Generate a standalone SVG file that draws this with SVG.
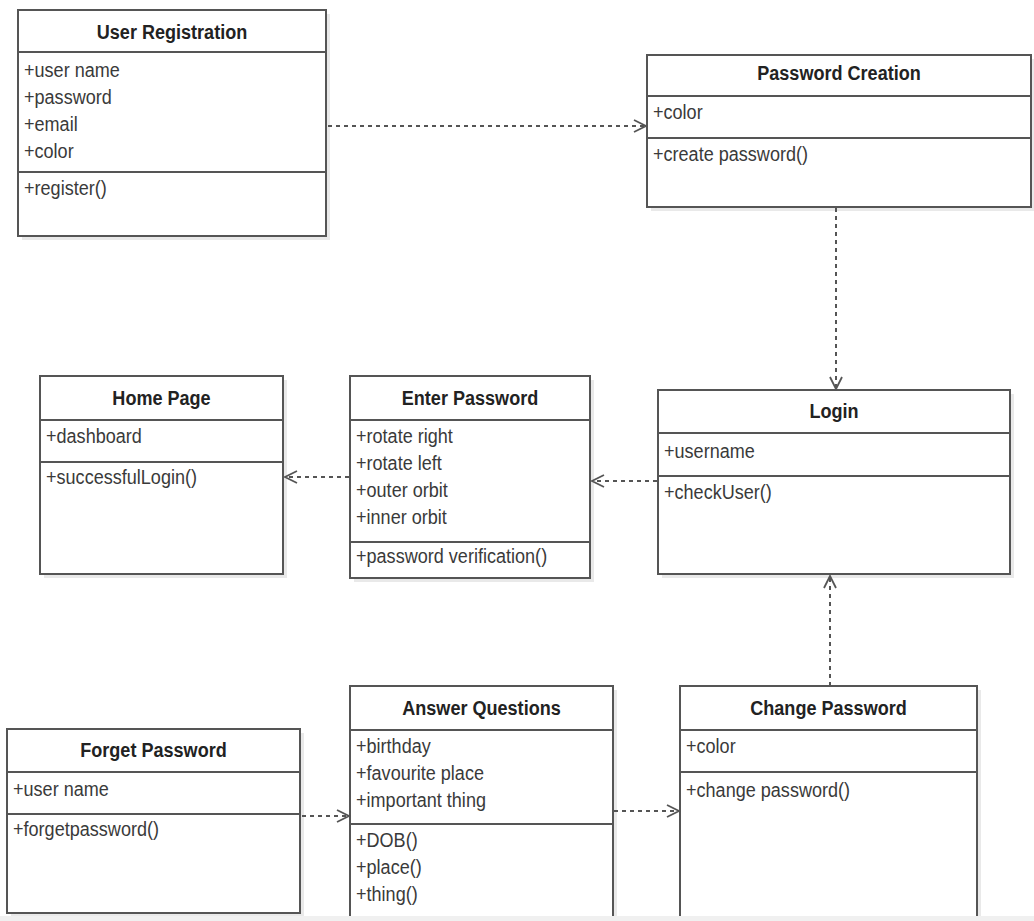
<svg xmlns="http://www.w3.org/2000/svg" width="1034" height="921" viewBox="0 0 1034 921">
<defs>
<style>
.box{fill:#fff;stroke:#555;stroke-width:2}
.sh{fill:#e9e9e9}
.ln{stroke:#555;stroke-width:2}
.t{font-family:"Liberation Sans",Arial,sans-serif;font-weight:bold;font-size:21px;fill:#222;text-anchor:middle}
.a{font-family:"Liberation Sans",Arial,sans-serif;font-size:21px;fill:#3a3a3a}
.c{stroke:#555;stroke-width:2;stroke-dasharray:4 4;fill:none;marker-end:url(#arr)}
</style>
<marker id="arr" markerUnits="userSpaceOnUse" markerWidth="16" markerHeight="16" refX="13" refY="7" orient="auto">
<path d="M1,1 L13,7 L1,13" fill="none" stroke="#555" stroke-width="1.8"/>
</marker>
</defs>
<rect x="0" y="0" width="1034" height="921" fill="#fff"/>

<g id="user-registration">
<rect class="sh" x="22" y="14" width="308" height="226"/>
<rect class="box" x="18" y="10" width="308" height="226"/>
<line class="ln" x1="18" y1="52" x2="326" y2="52"/>
<line class="ln" x1="18" y1="172" x2="326" y2="172"/>
<text class="t" transform="translate(172,39) scale(0.86,1)">User Registration</text>
<text class="a" transform="translate(24,77) scale(0.86,1)">+user name</text>
<text class="a" transform="translate(24,104) scale(0.86,1)">+password</text>
<text class="a" transform="translate(24,131) scale(0.86,1)">+email</text>
<text class="a" transform="translate(24,158) scale(0.86,1)">+color</text>
<text class="a" transform="translate(24,195) scale(0.86,1)">+register()</text>
</g>

<g id="password-creation">
<rect class="sh" x="651" y="59" width="384" height="152"/>
<rect class="box" x="647" y="55" width="384" height="152"/>
<line class="ln" x1="647" y1="96" x2="1031" y2="96"/>
<line class="ln" x1="647" y1="138" x2="1031" y2="138"/>
<text class="t" transform="translate(839,80) scale(0.86,1)">Password Creation</text>
<text class="a" transform="translate(653,119) scale(0.86,1)">+color</text>
<text class="a" transform="translate(653,161) scale(0.86,1)">+create password()</text>
</g>

<g id="home-page">
<rect class="sh" x="44" y="380" width="243" height="198"/>
<rect class="box" x="40" y="376" width="243" height="198"/>
<line class="ln" x1="40" y1="420" x2="283" y2="420"/>
<line class="ln" x1="40" y1="462" x2="283" y2="462"/>
<text class="t" transform="translate(161.500,405) scale(0.86,1)">Home Page</text>
<text class="a" transform="translate(46,443) scale(0.86,1)">+dashboard</text>
<text class="a" transform="translate(46,484) scale(0.86,1)">+successfulLogin()</text>
</g>

<g id="enter-password">
<rect class="sh" x="354" y="380" width="240" height="202"/>
<rect class="box" x="350" y="376" width="240" height="202"/>
<line class="ln" x1="350" y1="420" x2="590" y2="420"/>
<line class="ln" x1="350" y1="542" x2="590" y2="542"/>
<text class="t" transform="translate(470,405) scale(0.86,1)">Enter Password</text>
<text class="a" transform="translate(356,443) scale(0.86,1)">+rotate right</text>
<text class="a" transform="translate(356,470) scale(0.86,1)">+rotate left</text>
<text class="a" transform="translate(356,497) scale(0.86,1)">+outer orbit</text>
<text class="a" transform="translate(356,524) scale(0.86,1)">+inner orbit</text>
<text class="a" transform="translate(356,563) scale(0.86,1)">+password verification()</text>
</g>

<g id="login">
<rect class="sh" x="662" y="394" width="352" height="184"/>
<rect class="box" x="658" y="390" width="352" height="184"/>
<line class="ln" x1="658" y1="433" x2="1010" y2="433"/>
<line class="ln" x1="658" y1="476" x2="1010" y2="476"/>
<text class="t" transform="translate(834,418) scale(0.86,1)">Login</text>
<text class="a" transform="translate(664,458) scale(0.86,1)">+username</text>
<text class="a" transform="translate(664,499) scale(0.86,1)">+checkUser()</text>
</g>

<g id="forget-password">
<rect class="sh" x="11" y="733" width="293" height="184"/>
<rect class="box" x="7" y="729" width="293" height="184"/>
<line class="ln" x1="7" y1="772" x2="300" y2="772"/>
<line class="ln" x1="7" y1="814" x2="300" y2="814"/>
<text class="t" transform="translate(153.500,757) scale(0.86,1)">Forget Password</text>
<text class="a" transform="translate(13,796) scale(0.86,1)">+user name</text>
<text class="a" transform="translate(13,836) scale(0.86,1)">+forgetpassword()</text>
</g>

<g id="answer-questions">
<rect class="sh" x="354" y="690" width="263" height="240"/>
<rect class="box" x="350" y="686" width="263" height="240"/>
<line class="ln" x1="350" y1="730" x2="613" y2="730"/>
<line class="ln" x1="350" y1="824" x2="613" y2="824"/>
<text class="t" transform="translate(481.500,715) scale(0.86,1)">Answer Questions</text>
<text class="a" transform="translate(356,753) scale(0.86,1)">+birthday</text>
<text class="a" transform="translate(356,780) scale(0.86,1)">+favourite place</text>
<text class="a" transform="translate(356,807) scale(0.86,1)">+important thing</text>
<text class="a" transform="translate(356,847) scale(0.86,1)">+DOB()</text>
<text class="a" transform="translate(356,874) scale(0.86,1)">+place()</text>
<text class="a" transform="translate(356,901) scale(0.86,1)">+thing()</text>
</g>

<g id="change-password">
<rect class="sh" x="684" y="690" width="297" height="240"/>
<rect class="box" x="680" y="686" width="297" height="240"/>
<line class="ln" x1="680" y1="730" x2="977" y2="730"/>
<line class="ln" x1="680" y1="772" x2="977" y2="772"/>
<text class="t" transform="translate(828.500,715) scale(0.86,1)">Change Password</text>
<text class="a" transform="translate(686,753) scale(0.86,1)">+color</text>
<text class="a" transform="translate(686,797) scale(0.86,1)">+change password()</text>
</g>

<g id="connectors">
<path class="c" d="M328,126 H646"/>
<path class="c" d="M836,208 V389"/>
<path class="c" d="M657,481 H592"/>
<path class="c" d="M349,477 H285"/>
<path class="c" d="M830,686 V576"/>
<path class="c" d="M302,816 H349"/>
<path class="c" d="M614,811 H679"/>
</g>

<rect x="0" y="916" width="1034" height="5" fill="#f0f0f0"/>
</svg>
